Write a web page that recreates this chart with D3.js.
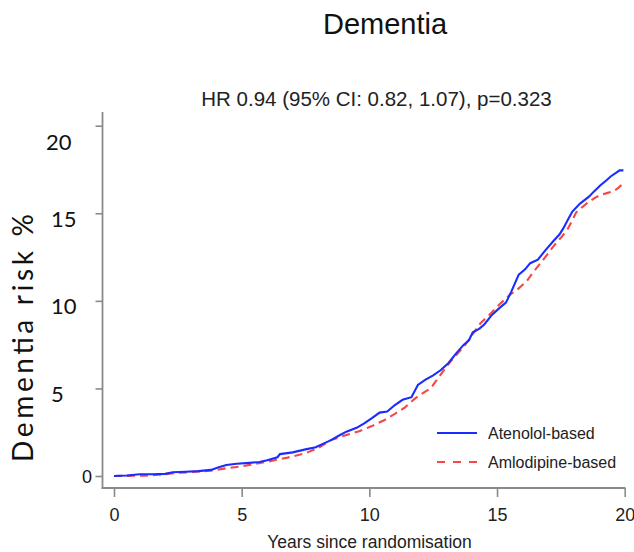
<!DOCTYPE html>
<html><head><meta charset="utf-8">
<script src="https://cdn.jsdelivr.net/npm/d3@7"></script>
<style>body{margin:0;background:#fff}svg{display:block}</style>
</head><body>
<script>
// ---- data ----
const yTicks = [0, 5, 10, 15, 20];
const xTicks = [0, 5, 10, 15, 20];
const seriesNames = ["Atenolol-based", "Amlodipine-based"];
const atenololT = [0,0.5,1.0,1.5,2.0,2.3,2.8,3.3,3.8,4.1,4.4,4.8,5.3,5.7,6.0,6.4,6.5,7.0,7.5,7.9,8.2,8.5,8.8,9.1,9.5,9.8,10.1,10.4,10.7,11.0,11.3,11.65,11.9,12.2,12.5,12.8,13.1,13.4,13.7,13.9,14.05,14.3,14.5,14.8,15.1,15.35,15.55,15.7,15.85,16.1,16.3,16.6,16.9,17.2,17.45,17.6,17.8,17.95,18.25,18.6,18.8,19.05,19.3,19.45,19.7,19.8,19.95];
const atenololV = [0,0.03,0.1,0.1,0.12,0.21,0.24,0.28,0.35,0.5,0.63,0.7,0.75,0.8,0.9,1.07,1.25,1.35,1.52,1.64,1.85,2.05,2.3,2.53,2.75,3.0,3.3,3.62,3.68,4.05,4.35,4.5,5.2,5.5,5.75,6.05,6.45,7.0,7.5,7.75,8.2,8.4,8.65,9.2,9.6,9.9,10.5,11.0,11.5,11.8,12.15,12.35,12.9,13.4,13.8,14.15,14.7,15.1,15.55,15.95,16.25,16.6,16.9,17.1,17.35,17.45,17.45];
const amlodipineT = [0,1.2,1.6,2.0,2.5,3.0,3.5,3.9,4.3,4.9,5.5,6.2,6.8,7.5,8.0,8.5,9.0,9.6,10.1,10.6,11.0,11.4,11.75,12.0,12.4,12.7,13.0,13.3,13.7,14.0,14.35,14.7,15.0,15.5,15.8,16.15,16.4,16.7,17.0,17.2,17.5,17.75,17.95,18.1,18.5,18.8,19.05,19.3,19.55,19.75,19.9];
const amlodipineV = [0,0.02,0.06,0.1,0.18,0.22,0.27,0.32,0.42,0.53,0.68,0.87,1.05,1.3,1.6,2.05,2.3,2.55,2.85,3.2,3.55,3.92,4.38,4.65,5.0,5.6,6.2,6.75,7.38,8.0,8.72,9.2,9.67,10.34,10.65,11.1,11.6,12.15,12.7,13.1,13.6,14.05,14.6,15.05,15.55,15.85,16.05,16.15,16.25,16.45,16.65];
const titleText = "Dementia";
const subtitleText = "HR 0.94 (95% CI: 0.82, 1.07), p=0.323";
const xLabel = "Years since randomisation";
const yLabel = "Dementia risk %";

// ---- layout ----
const W = 634, H = 552;
const svg = d3.select("body").append("svg").attr("width", W).attr("height", H);
const x = d3.scaleLinear().domain([0, 20]).range([114, 624.7]);
const y = d3.scaleLinear().domain([0, 20]).range([476, 125.7]);
const axisColor = "#8a8a8a";
const arial = "'Liberation Sans', Arial, sans-serif";
const cal = "Lato, 'Open Sans', sans-serif";

svg.append("text").attr("x", 385).attr("y", 33.5).attr("text-anchor", "middle")
  .attr("font-family", arial).attr("font-size", 29).attr("fill", "#111").text(titleText);
svg.append("text").attr("x", 376.5).attr("y", 106).attr("text-anchor", "middle")
  .attr("font-family", arial).attr("font-size", 20.5).attr("fill", "#222").text(subtitleText);

// y axis
const gy = svg.append("g").attr("transform", "translate(102.5,0)")
  .call(d3.axisLeft(y).tickValues(yTicks).tickSize(7).tickFormat(""));
gy.select(".domain").remove();
gy.selectAll(".tick line").attr("stroke", axisColor).attr("stroke-width", 1.6);
svg.append("line").attr("x1", 102.5).attr("x2", 102.5).attr("y1", 112).attr("y2", 489)
  .attr("stroke", axisColor).attr("stroke-width", 1.8);

// x axis
const gx = svg.append("g").attr("transform", "translate(0,488)")
  .call(d3.axisBottom(x).tickValues(xTicks).tickSize(9).tickPadding(0).tickFormat(d3.format("d")));
gx.select(".domain").remove();
gx.selectAll(".tick line").attr("stroke", axisColor).attr("stroke-width", 1.6);
gx.selectAll(".tick text").attr("font-family", arial).attr("font-size", 18)
  .attr("fill", "#222").attr("dy", null).attr("y", 33);
svg.append("line").attr("x1", 101.6).attr("x2", 625.5).attr("y1", 488).attr("y2", 488)
  .attr("stroke", axisColor).attr("stroke-width", 1.8);

// y tick labels (overlaid style)
const nudge = {0: [92, 6.5, "end", arial, 18], 5: [51, 14, "start", cal, 22], 10: [51, 13, "start", cal, 22],
               15: [51, 14, "start", cal, 22], 20: [46, 24, "start", cal, 22]};
svg.append("g").selectAll("text").data(yTicks).join("text")
  .attr("x", d => nudge[d][0]).attr("y", d => y(d) + nudge[d][1])
  .attr("text-anchor", d => nudge[d][2]).attr("font-family", d => nudge[d][3])
  .attr("font-size", d => nudge[d][4]).attr("fill", "#111").text(d => d);

svg.append("text").attr("transform", "translate(33,338) rotate(-90)").attr("text-anchor", "middle")
  .attr("font-family", cal).attr("font-size", 28).attr("fill", "#111")
  .attr("textLength", 248).attr("lengthAdjust", "spacing").text(yLabel);
svg.append("text").attr("x", 369.5).attr("y", 548).attr("text-anchor", "middle")
  .attr("font-family", arial).attr("font-size", 17.5).attr("fill", "#222").text(xLabel);

// curves
const line = d3.line().x(d => x(d[0])).y(d => y(d[1])).curve(d3.curveLinear);
const blue = "#1b2cff", red = "#f24848";
const a = atenololT.map((t, i) => [t, atenololV[i]]);
const b = amlodipineT.map((t, i) => [t, amlodipineV[i]]);
svg.append("path").attr("d", line(b)).attr("fill", "none").attr("stroke", red)
  .attr("stroke-width", 2.1).attr("stroke-dasharray", "8,5");
svg.append("path").attr("d", line(a)).attr("fill", "none").attr("stroke", blue)
  .attr("stroke-width", 2.1);

// legend
const leg = svg.append("g");
[[blue, null, 433, 439], [red, "8,8", 462, 468]].forEach((s, i) => {
  leg.append("line").attr("x1", 437).attr("x2", 477).attr("y1", s[2]).attr("y2", s[2])
    .attr("stroke", s[0]).attr("stroke-width", 2).attr("stroke-dasharray", s[1]);
  leg.append("text").attr("x", 488).attr("y", s[3]).attr("font-family", arial)
    .attr("font-size", 16).attr("fill", "#222").text(seriesNames[i]);
});
</script>
</body></html>
